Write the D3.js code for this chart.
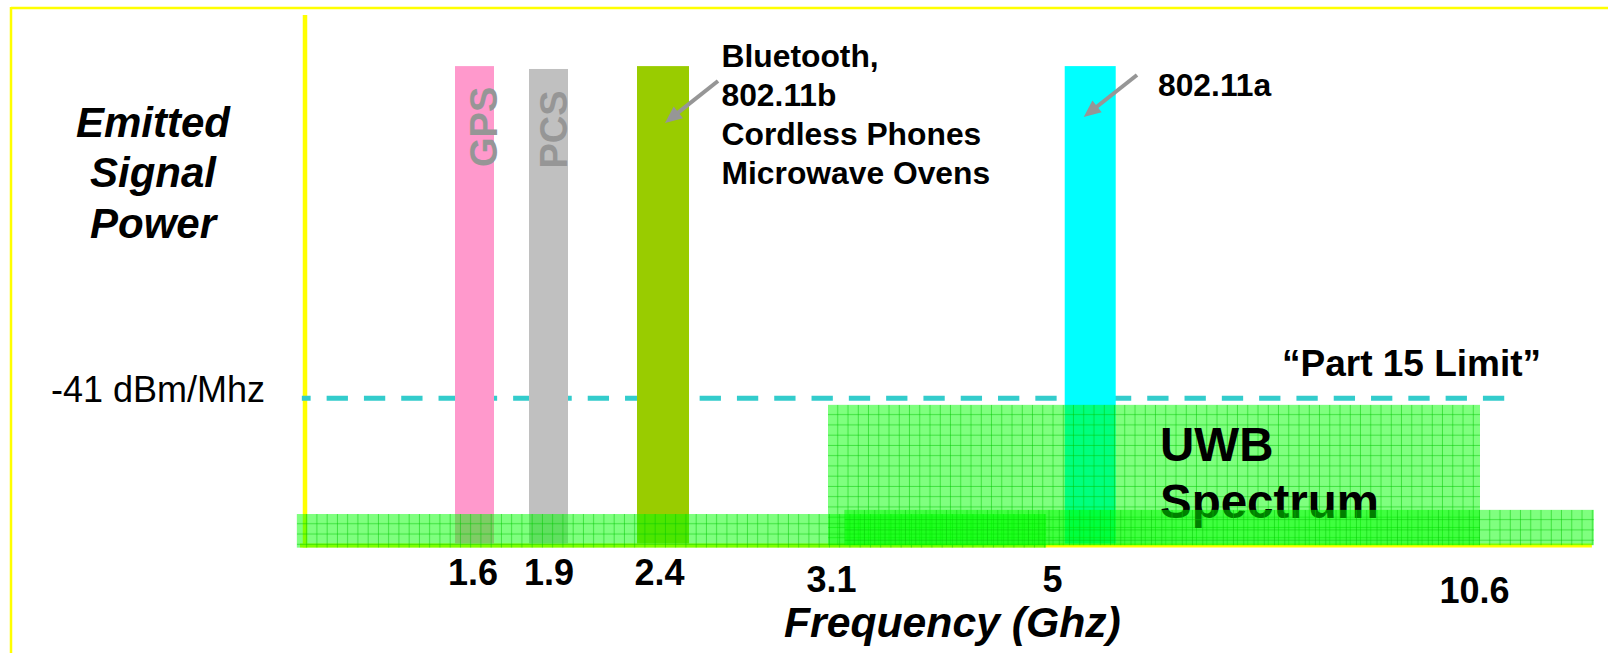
<!DOCTYPE html>
<html><head><meta charset="utf-8">
<script src="https://cdnjs.cloudflare.com/ajax/libs/d3/7.8.5/d3.min.js"></script>
<style>
html,body{margin:0;padding:0;background:#fff;overflow:hidden}
svg{display:block}
</style></head><body>
<svg id="chart" width="1608" height="653"></svg>
<script>
// ---------------- DATA ----------------
const tickFreqs   = [1.6, 1.9, 2.4, 3.1, 5, 10.6];          // GHz
const tickLabels  = ["1.6", "1.9", "2.4", "3.1", "5", "10.6"];
const bandNames   = ["GPS", "PCS", "Bluetooth", "802.11a"];
const bandCenters = [1.6, 1.9, 2.4, 5.5];                   // GHz
const bandPower   = [-0.5, -0.85, -0.5, -0.5];              // schematic top level
const bandFloor   = -58.7;
const bandInline  = ["GPS", "PCS", "", ""];
const limitValue  = -41;                                    // dBm/MHz
const limitSpan   = [0.9, 10.94];                           // GHz extent of dashed line
const limitLabel  = "-41 dBm/Mhz";
const limitName   = "\u201CPart 15 Limit\u201D";
const uwbRange    = [3.1, 10.6];
const uwbPower    = -41.8;
const uwbFloor    = -58.9;
const noiseFrom   = [0.88, 3.24];
const noiseTo     = [4.95, 12.09];
const noiseTop    = [-55.1, -54.6];
const noiseBottom = [-59.2, -58.9];
const btLines     = ["Bluetooth,", "802.11b", "Cordless Phones", "Microwave Ovens"];
const wifiALabel  = "802.11a";
const uwbLines    = ["UWB", "Spectrum"];
const yTitle      = ["Emitted", "Signal", "Power"];
const xTitle      = "Frequency (Ghz)";

// ---------------- LAYOUT / STYLE ----------------
const W = 1608, H = 653;
const tickPos     = [474.5, 548.5, 663, 828, 1052, 1480];
const yDomain     = [-59, 0];
const yRange      = [546, 62];
const barWidths   = [39, 39, 52, 51];
const barColors   = ["#FF99CC", "#C0C0C0", "#99CC00", "#00FFFF"];
const tickBase    = [585, 585, 585, 592, 592, 603];
const tickDx      = [-2, 0, -4, 3, 0, -6];
const axisX       = 305;
const axisBottomY = 545.5;
const yellow      = "#FFFF00";
const grey        = "#969696";
const FONT        = "'Liberation Sans', Arial, Helvetica, sans-serif";

const x = d3.scaleLinear().domain(tickFreqs).range(tickPos);
const y = d3.scaleLinear().domain(yDomain).range(yRange);

const svg = d3.select("#chart");
const defs = svg.append("defs");

// green grid pattern, one per shape so the grid is anchored on its corner
function gridPattern(id, ox, oy) {
  const s = 10.25;
  const p = defs.append("pattern").attr("id", id)
    .attr("patternUnits", "userSpaceOnUse")
    .attr("x", ox).attr("y", oy).attr("width", s).attr("height", s);
  p.append("rect").attr("width", s).attr("height", s).attr("fill", "rgba(0,255,0,0.5)");
  p.append("rect").attr("x", s - 1).attr("width", 1).attr("height", s).attr("fill", "rgba(0,200,0,0.5)");
  p.append("rect").attr("y", s - 1).attr("width", s).attr("height", 1).attr("fill", "rgba(0,200,0,0.5)");
  return "url(#" + id + ")";
}

// ---------- frame ----------
svg.append("line").attr("x1", 11).attr("x2", W).attr("y1", 8).attr("y2", 8)
  .attr("stroke", yellow).attr("stroke-width", 2.5);
svg.append("line").attr("x1", 11).attr("x2", 11).attr("y1", 7).attr("y2", H)
  .attr("stroke", yellow).attr("stroke-width", 2.5);

// ---------- axes (yellow) ----------
svg.append("line").attr("x1", axisX).attr("x2", axisX).attr("y1", 15).attr("y2", axisBottomY + 2)
  .attr("stroke", yellow).attr("stroke-width", 4.5);
svg.append("line").attr("x1", axisX - 5).attr("x2", x(noiseTo[1]) - 2)
  .attr("y1", axisBottomY).attr("y2", axisBottomY)
  .attr("stroke", yellow).attr("stroke-width", 4);

// ---------- limit line ----------
svg.append("line")
  .attr("x1", x(limitSpan[0])).attr("x2", x(limitSpan[1]))
  .attr("y1", y(limitValue)).attr("y2", y(limitValue))
  .attr("stroke", "#33CCCC").attr("stroke-width", 5)
  .attr("stroke-dasharray", "21.3,16").attr("stroke-dashoffset", 12.5);

// ---------- bars ----------
const bars = bandNames.map((n, i) => ({ name: n, c: bandCenters[i], p: bandPower[i], w: barWidths[i], col: barColors[i], lab: bandInline[i] }));
svg.append("g").selectAll("rect").data(bars).join("rect")
  .attr("x", d => x(d.c) - d.w / 2)
  .attr("width", d => d.w)
  .attr("y", d => y(d.p))
  .attr("height", d => y(bandFloor) - y(d.p))
  .attr("fill", d => d.col);

// inline rotated labels
svg.append("g").selectAll("text").data(bars.filter(d => d.lab)).join("text")
  .attr("transform", (d, i) => `translate(${x(d.c) + (i === 0 ? 22.8 : 18.2)},${i === 0 ? 167 : 168.5}) rotate(-90)`)
  .attr("font-family", FONT).attr("font-weight", "bold").attr("font-size", 38)
  .attr("fill", grey).text(d => d.lab);

// ---------- annotation arrows ----------
function arrow(x1, y1, x2, y2) {
  const ang = Math.atan2(y2 - y1, x2 - x1);
  const hl = 17, hw = 7.5;
  const bx = x2 - hl * Math.cos(ang), by = y2 - hl * Math.sin(ang);
  svg.append("line").attr("x1", x1).attr("y1", y1).attr("x2", bx + 2 * Math.cos(ang)).attr("y2", by + 2 * Math.sin(ang))
    .attr("stroke", grey).attr("stroke-width", 4);
  const px = -Math.sin(ang), py = Math.cos(ang);
  svg.append("path")
    .attr("d", `M${x2},${y2}L${bx + hw * px},${by + hw * py}L${bx - hw * px},${by - hw * py}Z`)
    .attr("fill", grey);
}
arrow(718, 81, x(bandCenters[2]) + 2, 123);
arrow(1137, 75, x(bandCenters[3]) - 6.5, 117);

// annotation texts
const bt = svg.append("text").attr("font-family", FONT).attr("font-weight", "bold")
  .attr("font-size", 31.8).attr("fill", "#000");
btLines.forEach((t, i) => bt.append("tspan").attr("x", 721.5).attr("y", 66.5 + i * 39.2).text(t));
svg.append("text").attr("x", 1158).attr("y", 96).attr("font-family", FONT).attr("font-weight", "bold")
  .attr("font-size", 31.8).text(wifiALabel);

// ---------- UWB spectrum ----------
svg.append("rect")
  .attr("x", x(uwbRange[0])).attr("width", x(uwbRange[1]) - x(uwbRange[0]))
  .attr("y", y(uwbPower)).attr("height", y(uwbFloor) - y(uwbPower))
  .attr("fill", gridPattern("pUWB", x(uwbRange[0]), y(uwbPower)));

const ut = svg.append("text").attr("font-family", FONT).attr("font-weight", "bold")
  .attr("font-size", 47.5).attr("fill", "#000");
uwbLines.forEach((t, i) => ut.append("tspan").attr("x", 1160).attr("y", 461 + i * 57).text(t));

// ---------- other emission floors ----------
noiseFrom.forEach((f, i) => {
  svg.append("rect")
    .attr("x", x(f)).attr("width", x(noiseTo[i]) - x(f))
    .attr("y", y(noiseTop[i])).attr("height", y(noiseBottom[i]) - y(noiseTop[i]))
    .attr("fill", gridPattern("pN" + i, x(f), y(noiseTop[i])));
});

// ---------- x tick labels ----------
const xAxis = d3.axisBottom(x).tickValues(tickFreqs)
  .tickFormat((d, i) => tickLabels[i]).tickSize(0).tickPadding(0);
const gx = svg.append("g").attr("transform", `translate(0,${axisBottomY})`).call(xAxis);
gx.select(".domain").remove();
gx.selectAll("text")
  .attr("y", (d, i) => tickBase[i] - axisBottomY).attr("dy", 0)
  .attr("dx", (d, i) => tickDx[i])
  .attr("font-family", FONT).attr("font-weight", "bold").attr("font-size", 36).attr("fill", "#000");

// ---------- titles ----------
svg.append("text").attr("x", 784).attr("y", 637)
  .attr("font-family", FONT).attr("font-weight", "bold").attr("font-style", "italic")
  .attr("font-size", 42.7).text(xTitle);

const yt = svg.append("text").attr("font-family", FONT).attr("font-weight", "bold")
  .attr("font-style", "italic").attr("font-size", 42).attr("text-anchor", "middle");
yTitle.forEach((t, i) => yt.append("tspan").attr("x", 153).attr("y", 136.7 + i * 50.5).text(t));

svg.append("text").attr("x", 265).attr("y", 402)
  .attr("font-family", FONT).attr("font-size", 36).attr("text-anchor", "end").text(limitLabel);

svg.append("text").attr("x", 1282).attr("y", 376)
  .attr("font-family", FONT).attr("font-weight", "bold").attr("font-size", 37).text(limitName);
</script>
</body></html>
